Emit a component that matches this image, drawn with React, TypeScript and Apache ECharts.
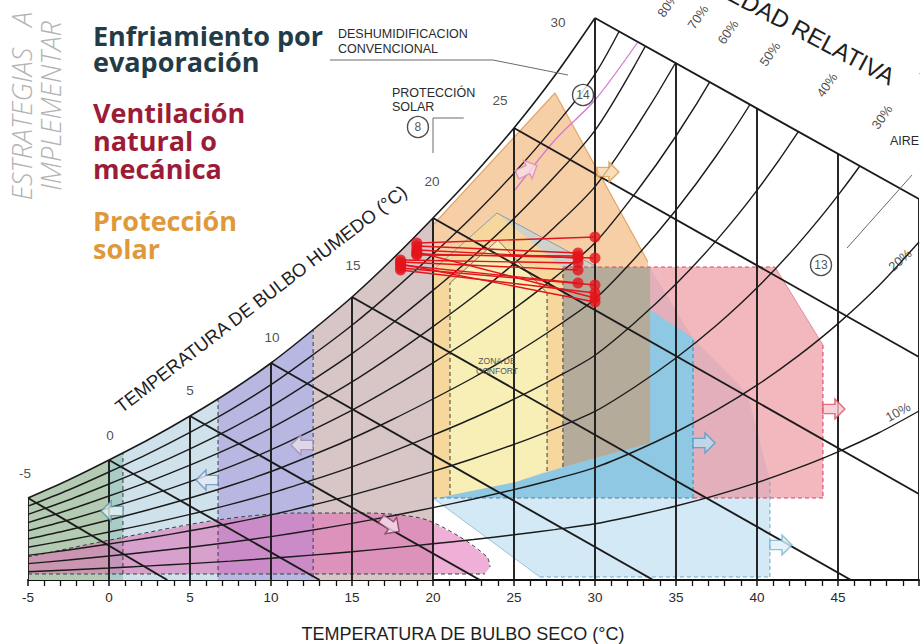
import React, { useEffect, useRef } from 'react';
import * as echarts from 'echarts';

// ---------- DATA ----------
// x: dry bulb temperature (°C); y: chart humidity scale (arbitrary units of the drawing)
const satT = [-5, -2.5, 0, 2.5, 5, 7.5, 10, 12.5, 15, 17.5, 20, 22.5, 25, 27.5, 30, 32.5, 35, 37.5, 40, 42.5, 45, 47.5, 50];
const satV = [4.1, 5.0, 6.0, 7.05, 8.2, 9.45, 10.85, 12.45, 14.15, 16.05, 18.1, 20.25, 22.6, 25.2, 28.1, 32.25, 37.0, 42.45, 48.7, 55.9, 64.1, 73.5, 84.5];
const rhLevels = [10, 20, 30, 40, 50, 60, 70, 80, 90];

const dryBulbT = [-5, 0, 5, 10, 15, 20, 25, 30, 35, 40, 45, 50];
const dryBulbTop = [4.1, 6.0, 8.2, 10.85, 14.15, 18.1, 22.6, 28.1, 25.85, 23.6, 21.3, 19.05];

const wetBulbT = [-5, 0, 5, 10, 15, 20, 25, 30];
const wetBulbStartV = [4.1, 6.0, 8.2, 10.85, 14.15, 18.1, 22.6, 28.1];
const wetBulbEndT = [3.6, 13.0, 22.9, 33.6, 45.8, 50, 50, 50];
const wetBulbEndV = [0, 0, 0, 0, 0, 4.3, 11.15, 19.05];

const wetBulbLabels = ['-5', '0', '5', '10', '15', '20', '25', '30'];
const wetBulbLabelT = [-5.19, 0.06, 5.0, 10.06, 15.06, 19.94, 24.14, 27.72];
const wetBulbLabelV = [5.35, 7.25, 9.5, 12.15, 15.75, 19.95, 24.0, 27.9];

const rhLabels = ['80%', '70%', '60%', '50%', '40%', '30%', '20%', '10%'];
const rhLabelT = [34.5, 36.36, 38.21, 40.8, 44.32, 47.72, 48.83, 48.7];
const rhLabelV = [28.75, 28.15, 27.4, 26.3, 24.75, 23.15, 16.0, 8.4];

// zones (Givoni strategies)
const zoneCalefaccion = [[-5, 0], [-5, 4.1], [-2.5, 5.0], [0, 6.0], [0, 0]];
const zoneTransicion = [[0, 0], [0, 6.0], [0.86, 6.35], [0.86, 0]];
const zoneSolarActiva = [[0.86, 0], [0.86, 6.35], [2.5, 7.05], [5, 8.2], [6.73, 9.07], [6.73, 0]];
const zoneSolarPasiva = [[6.73, 0], [6.73, 9.07], [7.5, 9.45], [10, 10.85], [12.5, 12.45], [12.6, 12.52], [12.6, 0]];
const zoneGanancias = [[12.6, 0], [12.6, 12.52], [15, 14.15], [17.5, 16.05], [20, 18.1], [20, 0]];
const zoneProteccion = [[20, 4.05], [20, 17.75], [27.53, 24.35], [33.27, 15.9], [33.4, 6.85], [28.02, 5.65], [25.06, 4.9]];
const zoneEvapDirecto = [[20, 4.1], [23.95, 18.35], [30.12, 15.65], [33.4, 15.6], [35.99, 12.15], [39.38, 9.35], [40.8, 5.0], [40.8, 0.15], [26.6, 0.15]];
const zoneVentilacion = [[28.02, 15.65], [41.11, 15.65], [44.07, 11.75], [44.07, 4.1], [28.02, 4.1]];
const zoneEvapIndirecto = [[20, 4.1], [25.06, 4.9], [28.02, 5.65], [33.4, 6.85], [33.4, 13.5], [36.05, 12.1], [36.05, 4.1]];
const zoneMasaTermica = [[28.02, 15.65], [33.4, 15.65], [33.4, 6.85], [28.02, 5.65]];
const zoneConfortAmpliada = [[20, 4.05], [20, 15.5], [23.95, 18.35], [28.02, 15.6], [28.02, 5.65], [25.06, 4.9]];
const zoneConfort = [[21.05, 4.25], [21.05, 14.85], [24.0, 17.0], [27.04, 14.35], [27.04, 5.45], [25.06, 4.9]];
const humidTop = [[-5, 1.15], [0.06, 2.0], [6.67, 3.0], [11.79, 3.35], [15.93, 3.35], [17.96, 3.25], [19.63, 3.0], [21.67, 2.15], [23.33, 1.15], [23.52, 0.65]];
const humidBottom = [[23.2, 0.3], [-5, 0.3]];
const maskAboveWb30 = [[30, 28.1], [50, 19.05], [50, 31], [30, 31]];
const zone14Line = [[25.06, 19.5], [27.53, 22.0], [30, 24.0], [32.6, 26.85]];

// climate lines (monthly min / max)
const tMin = [19.0, 19.0, 19.0, 19.0, 18.0, 18.0, 18.0, 18.0, 18.0, 19.0, 18.0, 19.0];
const hMin = [16.85, 16.7, 16.5, 16.3, 16.0, 15.9, 15.75, 15.6, 15.5, 16.4, 15.8, 16.25];
const tMax = [30.0, 28.95, 28.95, 30.0, 28.95, 28.95, 28.95, 30.0, 30.0, 30.0, 30.0, 28.95];
const hMax = [17.15, 16.35, 16.1, 16.1, 15.85, 15.5, 14.85, 14.75, 14.35, 14.1, 13.9, 16.2];

// zone number markers
const markerNames = ['8', '14', '13'];
const markerT = [19.07, 29.26, 43.95];
const markerV = [22.65, 24.25, 15.75];

// direction arrows on zone borders
const arrowT = [0.19, 6.05, 11.91, 17.35, 25.8, 30.8, 36.73, 44.75, 41.48];
const arrowV = [3.45, 5.0, 6.75, 2.75, 20.5, 20.4, 6.85, 8.55, 1.75];

// leader lines
const leaderDeshum = [[13.64, 26.0], [23.7, 26.0], [28.33, 25.25]];
const leaderProteccion = [[20, 21.35], [20, 23.1], [21.9, 23.1]];
const leaderAire = [[49.57, 20.25], [45.56, 16.6]];

const xTicks = [-5, 0, 5, 10, 15, 20, 25, 30, 35, 40, 45];

// ---------- STYLE ----------
const SANS = '"Liberation Sans", Arial, Helvetica, sans-serif';
const LINE = '#1b1b1b';

const zoneList = [
  { pts: zoneCalefaccion, fill: '#b3cbb2' },
  { pts: zoneTransicion, fill: '#a9ccc7' },
  { pts: zoneSolarActiva, fill: '#cfe1ea' },
  { pts: zoneSolarPasiva, fill: '#b7b7e2' },
  { pts: zoneGanancias, fill: '#d8c5c6' },
  { pts: zoneProteccion, fill: '#f7cfa6' },
  { pts: zoneEvapDirecto, fill: 'rgba(168,212,238,0.5)' },
  { pts: zoneVentilacion, fill: 'rgba(236,138,150,0.62)' },
  { pts: zoneEvapIndirecto, fill: '#8fc8e2' },
  { pts: zoneMasaTermica, fill: '#b5ab9b' },
  { pts: zoneConfortAmpliada, fill: '#f6d79c' },
  { pts: zoneConfort, fill: '#f8efb6' },
  { pts: [...humidTop, ...humidBottom], fill: 'rgba(224,96,176,0.5)' },
];

const arrowStyles = [
  { dir: 180, fill: '#e6f1f2', stroke: '#5c8fa0' },
  { dir: 180, fill: '#e3ecf6', stroke: '#6a8cc0' },
  { dir: 180, fill: '#e8dde8', stroke: '#a08cb0' },
  { dir: -35, fill: '#f6dcec', stroke: '#7a3a5a' },
  { dir: 25, fill: '#f8dde8', stroke: '#d98ab8' },
  { dir: 0, fill: '#f8d7a8', stroke: '#d89a50' },
  { dir: 0, fill: '#b8e0f2', stroke: '#4f9cc6' },
  { dir: 0, fill: '#f7c8cf', stroke: '#dd4c60' },
  { dir: 0, fill: '#dff0fa', stroke: '#78b2cf' },
];
const ARROW = 'path://M0,6 L12,6 L12,0 L22,11 L12,22 L12,16 L0,16 Z';

function segSeries(segs: number[][], color: string, width: number, dash: number[] | null, z: number) {
  return {
    type: 'custom',
    coordinateSystem: 'cartesian2d',
    clip: true,
    silent: true,
    z,
    data: segs,
    encode: { x: [0, 2], y: [1, 3] },
    renderItem: (_p: any, api: any) => {
      const a = api.coord([api.value(0), api.value(1)]);
      const b = api.coord([api.value(2), api.value(3)]);
      const style: any = { stroke: color, lineWidth: width, fill: null };
      if (dash) style.lineDash = dash;
      return { type: 'line', shape: { x1: a[0], y1: a[1], x2: b[0], y2: b[1] }, style };
    },
  };
}

function polySeries(list: { pts: number[][]; fill: string }[], z: number) {
  return {
    type: 'custom',
    coordinateSystem: 'cartesian2d',
    clip: true,
    silent: true,
    z,
    data: list.map((zn, i) => [zn.pts[0][0], zn.pts[0][1], i]),
    renderItem: (params: any, api: any) => {
      const zn = list[params.dataIndex];
      return {
        type: 'polygon',
        shape: { points: zn.pts.map((p) => api.coord(p)) },
        style: { fill: zn.fill, stroke: null },
      };
    },
  };
}

function curve(data: number[][], color: string, width: number, z: number, smooth: number, dash?: number[]) {
  return {
    type: 'line',
    data,
    showSymbol: false,
    symbol: 'none',
    smooth,
    clip: true,
    silent: true,
    z,
    lineStyle: { color, width, type: dash ? dash : 'solid' },
  };
}

function text(x: number, y: number, t: string, font: string, fill: string, align = 'left', rotation = 0, lineHeight?: number) {
  const style: any = { text: t, font, fill, align, verticalAlign: 'middle', textAlign: align, textVerticalAlign: 'middle' };
  if (lineHeight) style.lineHeight = lineHeight;
  return { type: 'text', x, y, rotation, silent: true, z: 100, style };
}

export default function App() {
  const ref = useRef<HTMLDivElement>(null);
  useEffect(() => {
    if (!ref.current) return;
    const chart = echarts.init(ref.current, undefined, { renderer: 'svg' });

    const series: any[] = [];
    // zones
    series.push(polySeries(zoneList, 1));
    // zone borders (dashed)
    series.push(
      segSeries(
        [
          [0.86, 0.3, 0.86, 6.35],
          [6.73, 0.15, 6.73, 9.07],
          [12.6, 0.15, 12.6, 12.52],
          [21.05, 4.25, 21.05, 14.85],
          [27.04, 5.45, 27.04, 14.35],
          [28.02, 5.65, 28.02, 15.6],
          [-5, 0.3, 23.2, 0.3],
        ],
        '#3c3c3c', 1, [4, 3], 2
      )
    );
    series.push(curve(humidTop, '#3c3c3c', 1, 2, 0.3, [4, 3]));
    series.push(segSeries([[20, 4.1, 36.05, 4.1], [36.05, 4.1, 36.05, 12.1]], '#4a86a8', 1, [4, 3], 2));
    series.push(segSeries([[28.02, 15.65, 41.11, 15.65], [44.07, 11.75, 44.07, 4.1], [36.05, 4.1, 44.07, 4.1]], '#d8475c', 1.1, [4, 3], 2));
    series.push(segSeries([[41.11, 15.65, 44.07, 11.75]], '#e28c98', 1, null, 2));
    series.push(segSeries([[40.8, 0.15, 40.8, 5.0], [26.6, 0.15, 40.8, 0.15]], '#6fa8c4', 1, [4, 3], 2));
    series.push(segSeries([[20, 4.1, 26.6, 0.15]], '#9cc3d6', 1, null, 2));
    series.push(segSeries([[21.05, 14.85, 24.0, 17.0], [24.0, 17.0, 27.04, 14.35]], '#6e6e6e', 0.9, null, 2));
    series.push(segSeries([[20, 15.5, 23.95, 18.35], [23.95, 18.35, 30.12, 15.65]], '#8a9ca6', 1, null, 2));
    series.push(segSeries([[20, 17.75, 27.53, 24.35], [27.53, 24.35, 33.27, 15.9]], '#e3a466', 1.2, null, 2));

    // relative humidity curves
    rhLevels.forEach((r) => {
      series.push(curve(satT.map((t, i) => [t, +((satV[i] * r) / 100).toFixed(3)]), LINE, 1.4, 3, 0.3));
    });
    series.push(curve(zone14Line, '#d27ad2', 1.3, 3, 0.3));
    // white mask above the 30 °C wet-bulb line
    series.push(polySeries([{ pts: maskAboveWb30, fill: '#ffffff' }], 4));
    // saturation curve
    series.push(curve(satT.filter((t) => t <= 30).map((t, i) => [t, satV[i]]), LINE, 1.6, 5, 0.3));
    // dry-bulb verticals
    series.push(segSeries(dryBulbT.map((t, i) => [t, 0, t, dryBulbTop[i]]), LINE, 1.9, null, 5));
    // wet-bulb lines
    series.push(segSeries(wetBulbT.map((t, i) => [t, wetBulbStartV[i], wetBulbEndT[i], wetBulbEndV[i]]), LINE, 1.9, null, 5));

    // arrows
    series.push({
      type: 'scatter',
      z: 6,
      silent: true,
      clip: false,
      data: arrowT.map((t, i) => ({
        value: [t, arrowV[i]],
        symbolRotate: arrowStyles[i].dir,
        itemStyle: { color: arrowStyles[i].fill, borderColor: arrowStyles[i].stroke, borderWidth: 1.4 },
      })),
      symbol: ARROW,
      symbolSize: [22, 20],
    });

    // leaders
    series.push({
      type: 'lines',
      coordinateSystem: 'cartesian2d',
      polyline: true,
      silent: true,
      z: 6,
      symbol: ['none', 'arrow'],
      symbolSize: 7,
      lineStyle: { color: '#6b6b6b', width: 1, opacity: 1 },
      data: [{ coords: leaderDeshum }, { coords: leaderProteccion }, { coords: leaderAire }],
    });

    // zone markers
    series.push({
      type: 'scatter',
      z: 7,
      silent: true,
      clip: false,
      data: markerT.map((t, i) => ({ value: [t, markerV[i]], name: markerNames[i] })),
      symbol: 'circle',
      symbolSize: 21,
      itemStyle: { color: '#ffffff', borderColor: '#222', borderWidth: 1.4 },
      label: { show: true, position: 'inside', formatter: '{b}', color: '#1e1e1e', fontSize: 12, fontFamily: SANS },
    });

    // climate data
    series.push(segSeries(tMin.map((t, i) => [t, hMin[i], tMax[i], hMax[i]]), '#e3141c', 1.4, null, 8));
    series.push({
      type: 'scatter',
      z: 9,
      silent: true,
      data: [...tMin.map((t, i) => [t, hMin[i]]), ...tMax.map((t, i) => [t, hMax[i]])],
      symbol: 'circle',
      symbolSize: 11,
      itemStyle: { color: '#e3141c' },
    });

    // wet-bulb labels
    series.push({
      type: 'scatter',
      z: 9,
      silent: true,
      clip: false,
      symbolSize: 1,
      itemStyle: { color: 'rgba(0,0,0,0)' },
      data: wetBulbLabels.map((n, i) => ({ value: [wetBulbLabelT[i], wetBulbLabelV[i]], name: n })),
      label: { show: true, position: 'inside', formatter: '{b}', color: '#222', fontSize: 13.5, fontFamily: SANS },
    });
    // RH labels
    const rhAngles = [55, 55, 55, 55, 55, 55, 41, 29];
    series.push({
      type: 'scatter',
      z: 9,
      silent: true,
      clip: false,
      symbolSize: 1,
      itemStyle: { color: 'rgba(0,0,0,0)' },
      data: rhLabels.map((n, i) => ({ value: [rhLabelT[i], rhLabelV[i]], name: n, label: { rotate: rhAngles[i] } })),
      label: { show: true, position: 'inside', formatter: '{b}', color: '#222', fontSize: 13, fontFamily: SANS },
    });

    const bold = (c: string, x: number, y: number, t: string) =>
      text(x, y, t, `bold 27px "Open Sans", "Noto Sans", sans-serif`, c, 'left', 0, 24);

    chart.setOption({
      animation: false,
      backgroundColor: '#ffffff',
      grid: { left: 28, right: 3, top: 0, bottom: 64, containLabel: false },
      xAxis: {
        type: 'value',
        min: -5,
        max: 50,
        interval: 5,
        splitLine: { show: false },
        axisLine: { show: true, lineStyle: { color: '#111', width: 2 } },
        axisTick: { show: true, length: 6, lineStyle: { color: '#111', width: 1.5 } },
        minorTick: { show: true, splitNumber: 5, length: 6, lineStyle: { color: '#111', width: 1.3 } },
        axisLabel: {
          margin: 10,
          fontSize: 13.5,
          color: '#2a2a2a',
          fontFamily: SANS,
          formatter: (v: number) => (xTicks.indexOf(v) >= 0 ? String(v) : ''),
        },
      },
      yAxis: { type: 'value', min: 0, max: 29, show: false, splitLine: { show: false } },
      series,
      graphic: [
        text(463, 634, 'TEMPERATURA DE BULBO SECO (°C)', `18px ${SANS}`, '#1e1e1e', 'center'),
        text(261, 299, 'TEMPERATURA DE BULBO HUMEDO (°C)', `18.5px ${SANS}`, '#1e1e1e', 'center', (37.4 * Math.PI) / 180),
        text(787, 22, 'HUMEDAD RELATIVA', `24px ${SANS}`, '#1e1e1e', 'center', (-28 * Math.PI) / 180),
        text(338, 34, 'DESHUMIDIFICACION', `12.5px ${SANS}`, '#2a2a2a'),
        text(338, 49, 'CONVENCIONAL', `12.5px ${SANS}`, '#2a2a2a'),
        text(392, 93, 'PROTECCIÓN', `12.5px ${SANS}`, '#2a2a2a'),
        text(392, 107, 'SOLAR', `12.5px ${SANS}`, '#2a2a2a'),
        text(890, 141, 'AIRE', `12.5px ${SANS}`, '#2a2a2a'),
        text(497, 361, 'ZONA DE', `8.5px ${SANS}`, '#555', 'center'),
        text(497, 371, 'CONFORT', `8.5px ${SANS}`, '#555', 'center'),
        text(21, 106, 'ESTRATEGIAS   A', `italic 300 27px "Open Sans", sans-serif`, '#b3b3b3', 'center', Math.PI / 2),
        text(50, 106, 'IMPLEMENTAR', `italic 300 27px "Open Sans", sans-serif`, '#b3b3b3', 'center', Math.PI / 2),
        bold('#223b46', 93, 35, 'Enfriamiento por'),
        bold('#223b46', 93, 61.5, 'evaporación'),
        bold('#9c1c38', 93, 112.5, 'Ventilación'),
        bold('#9c1c38', 93, 140, 'natural o'),
        bold('#9c1c38', 93, 168.5, 'mecánica'),
        bold('#e0993a', 93, 220.5, 'Protección'),
        bold('#e0993a', 93, 248.5, 'solar'),
      ],
    });
    return () => chart.dispose();
  }, []);

  return <div ref={ref} style={{ position: 'absolute', left: 0, top: 0, width: 922, height: 644 }} />;
}
